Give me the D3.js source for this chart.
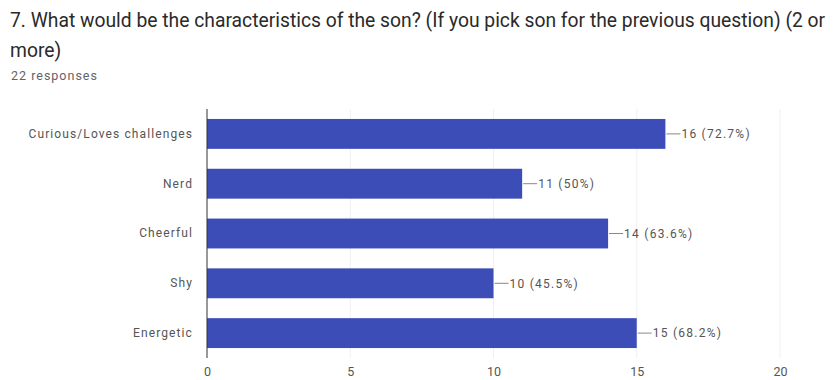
<!DOCTYPE html>
<html>
<head>
<meta charset="utf-8">
<script src="https://cdn.jsdelivr.net/npm/d3@7"></script>
<style>
  html, body { margin: 0; padding: 0; background: #fff; }
  svg { display: block; font-family: Roboto, Arial, sans-serif; }
</style>
</head>
<body>
<svg id="chart" width="839" height="380"></svg>
<script>
// Survey answers: count of respondents per characteristic
const categories = ["Curious/Loves challenges", "Nerd", "Cheerful", "Shy", "Energetic"];
const counts = [16, 11, 14, 10, 15];
const percents = ["72.7%", "50%", "63.6%", "45.5%", "68.2%"];
const xTicks = [0, 5, 10, 15, 20];
const titleLines = [
  "7. What would be the characteristics of the son? (If you pick son for the previous question) (2 or",
  "more)"
];
const responses = "22 responses";

const svg = d3.select("#chart");

// Heading
svg.selectAll("text.title")
  .data(titleLines)
  .join("text")
  .attr("class", "title")
  .attr("x", 10)
  .attr("y", (d, i) => 27 + i * 30)
  .attr("font-size", 19.3)
  .attr("fill", "#2a2a2a")
  .text(d => d);

svg.append("text")
  .attr("x", 11)
  .attr("y", 80)
  .attr("font-size", 12.5)
  .attr("letter-spacing", 1)
  .attr("fill", "#5f6368")
  .text(responses);

const plot = { left: 207, right: 780, top: 109, bottom: 358 };

const x = d3.scaleLinear().domain([0, 20]).range([plot.left, plot.right]);
const y = d3.scaleBand().domain(categories).range([plot.top, plot.bottom]).paddingInner(0.4).paddingOuter(0.2);

// Vertical gridlines
svg.selectAll("line.grid")
  .data(xTicks.slice(1))
  .join("line")
  .attr("class", "grid")
  .attr("x1", d => x(d)).attr("x2", d => x(d))
  .attr("y1", plot.top).attr("y2", plot.bottom)
  .attr("stroke", "#f0f0f0")
  .attr("stroke-width", 1);

// Bars
svg.selectAll("rect.bar")
  .data(categories)
  .join("rect")
  .attr("class", "bar")
  .attr("x", x(0))
  .attr("y", d => y(d))
  .attr("width", (d, i) => x(counts[i]) - x(0))
  .attr("height", y.bandwidth())
  .attr("fill", "#3c4db7");

// Baseline
svg.append("line")
  .attr("x1", x(0)).attr("x2", x(0))
  .attr("y1", plot.top).attr("y2", plot.bottom)
  .attr("stroke", "#333")
  .attr("stroke-width", 1);

// Value labels with short leader lines
const lab = svg.selectAll("g.val")
  .data(categories)
  .join("g")
  .attr("class", "val")
  .attr("transform", (d, i) => `translate(${x(counts[i])},${y(d) + y.bandwidth() / 2})`);
lab.append("line")
  .attr("x1", 1).attr("x2", 15)
  .attr("stroke", "#888").attr("stroke-width", 1);
lab.append("text")
  .attr("x", 16)
  .attr("dy", "0.35em")
  .attr("font-size", 12)
  .attr("letter-spacing", 1.25)
  .attr("fill", "#555")
  .text((d, i) => `${counts[i]} (${percents[i]})`);

// Category axis labels
svg.append("g")
  .attr("transform", `translate(${x(0) - 14},0)`)
  .call(d3.axisLeft(y).tickSize(0).tickPadding(0))
  .call(g => g.select(".domain").remove())
  .call(g => g.selectAll("text")
    .attr("font-family", "Roboto, Arial, sans-serif")
    .attr("font-size", 12)
    .attr("letter-spacing", 1.1)
    .attr("fill", "#555"));

// Value axis labels
svg.append("g")
  .attr("transform", `translate(0,${plot.bottom + 9})`)
  .call(d3.axisBottom(x).tickValues(xTicks).tickSize(0).tickPadding(0))
  .call(g => g.select(".domain").remove())
  .call(g => g.selectAll("text")
    .attr("font-family", "Roboto, Arial, sans-serif")
    .attr("font-size", 12.5)
    .attr("fill", "#555"));
</script>
</body>
</html>
